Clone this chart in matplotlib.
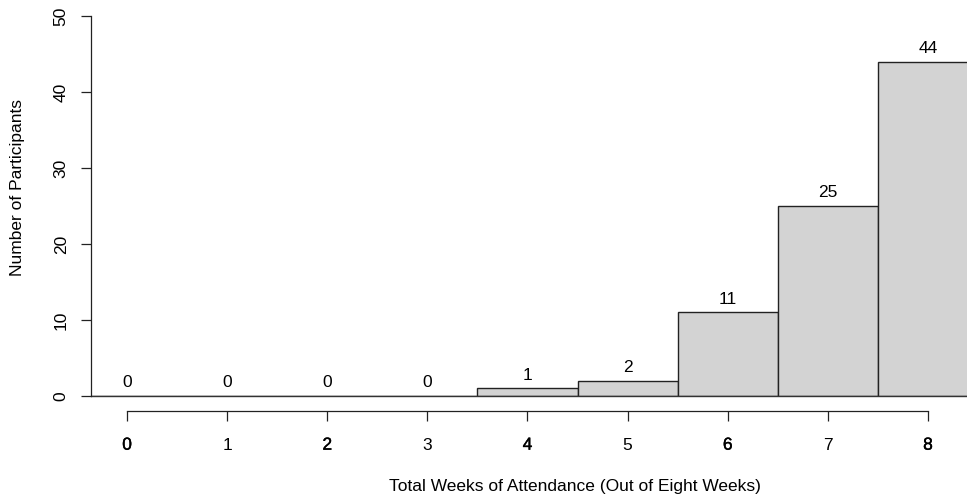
import numpy as np
import matplotlib.pyplot as plt
import matplotlib.patheffects as pe

plt.rcParams['font.family'] = ['Liberation Sans', 'DejaVu Sans']

# attendance histogram: weeks attended vs participants
weeks = [0, 1, 2, 3, 4, 5, 6, 7, 8]
counts = [0, 0, 0, 0, 1, 2, 11, 25, 44]
y_ticks = [0, 10, 20, 30, 40, 50]

W, H = 967, 498
fs = 12.5
fig = plt.figure(figsize=(W / 100, H / 100), dpi=100)
ax = fig.add_axes([91 / W, (H - 396) / H, 1 - 91 / W, 380 / H])

ax.bar(weeks, counts, width=1.0, color='#d3d3d3', edgecolor='#222222', linewidth=1.0)
# empty bins still show as a line along zero
ax.axhline(0, color='#333333', linewidth=1.0, zorder=1.5, clip_on=False)
for w, c in zip(weeks, counts):
    ax.annotate(str(c), (w, c), xytext=(0, 4), textcoords='offset points',
                ha='center', va='bottom', fontsize=fs)

ax.set_xlim(-0.36, 8.39)
ax.set_ylim(0, 50)

for s in ['top', 'right']:
    ax.spines[s].set_visible(False)
ax.spines['left'].set_bounds(0, 50)
ax.spines['bottom'].set_position(('outward', 11))
ax.spines['bottom'].set_bounds(0, 8)
for s in ['left', 'bottom']:
    ax.spines[s].set_color('#222222')
    ax.spines[s].set_linewidth(0.9)

ax.set_yticks(y_ticks)
ax.set_yticklabels([str(t) for t in y_ticks], rotation=90, va='center')
ax.set_xticks(weeks)
ax.set_xticklabels([str(w) for w in weeks])
ax.tick_params(axis='both', length=7, width=0.9, color='#222222', labelsize=fs)
ax.tick_params(axis='x', pad=12)
ax.tick_params(axis='y', pad=9)

# even labels come out a touch heavier
for i, lab in enumerate(ax.get_xticklabels()):
    if i % 2 == 0:
        lab.set_path_effects([pe.withStroke(linewidth=0.3, foreground='black')])

fig.text(575 / W, 1 - 486 / H, 'Total Weeks of Attendance (Out of Eight Weeks)',
         ha='center', va='center', fontsize=fs)
fig.text(18 / W, 1 - 187 / H, 'Number of Participants', rotation=90,
         ha='center', va='center', fontsize=fs)

fig.savefig('out.png', dpi=100)
